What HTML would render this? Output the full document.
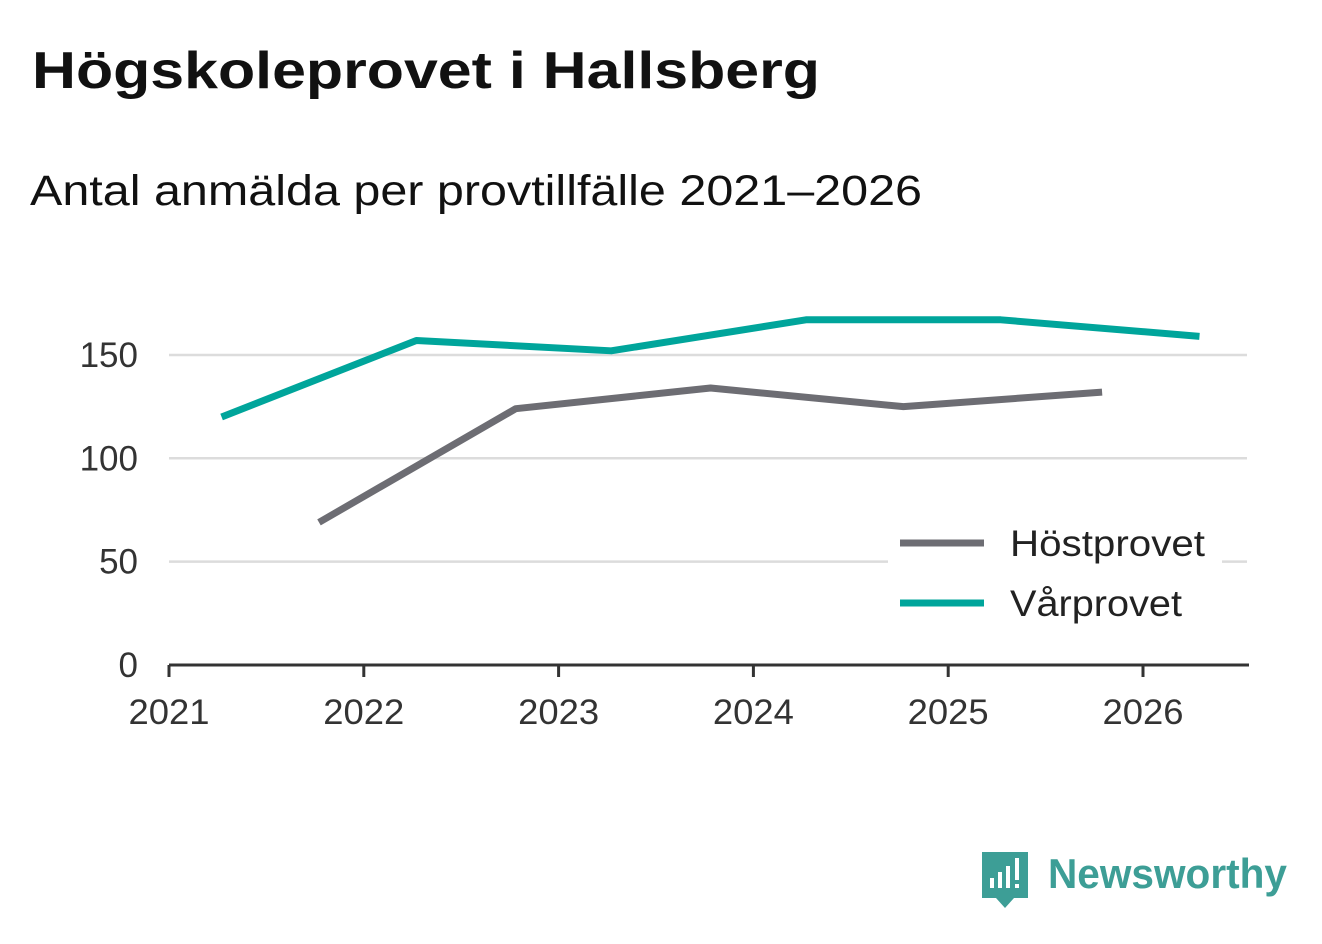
<!DOCTYPE html>
<html><head><meta charset="utf-8">
<style>
body{margin:0;background:#fff;width:1322px;height:939px;overflow:hidden;font-family:"Liberation Sans","DejaVu Sans",sans-serif;}
</style></head>
<body>
<svg width="1322" height="939" xmlns="http://www.w3.org/2000/svg">
<text x="32" y="88" font-size="52" font-weight="bold" fill="#111" textLength="788" lengthAdjust="spacingAndGlyphs">Högskoleprovet i Hallsberg</text>
<text x="30" y="205" font-size="43" fill="#111" textLength="892" lengthAdjust="spacingAndGlyphs">Antal anmälda per provtillfälle 2021–2026</text>
<g id="grid"></g>
<g id="series"></g>
<g id="axes"></g>
<g>
<rect x="888" y="520" width="334" height="110" fill="#fff"/>
<line x1="900" y1="543" x2="984" y2="543" stroke="#6d6d73" stroke-width="7"/>
<text x="1010" y="556" font-size="37" fill="#222" textLength="195" lengthAdjust="spacingAndGlyphs">Höstprovet</text>
<line x1="900" y1="603" x2="984" y2="603" stroke="#00a59b" stroke-width="7"/>
<text x="1010" y="616" font-size="37" fill="#222" textLength="172" lengthAdjust="spacingAndGlyphs">Vårprovet</text>
</g>
<g>
<path d="M982 852 h46 v46 h-14 l-9 10 l-9 -10 h-14 z" fill="#3d9e96"/>
<rect x="990" y="878" width="4" height="10" fill="#fff"/>
<rect x="998" y="872" width="4" height="16" fill="#fff"/>
<rect x="1006" y="866" width="4" height="22" fill="#fff"/>
<rect x="1015" y="858" width="4" height="22" fill="#fff"/>
<rect x="1015" y="884" width="4" height="4" fill="#fff"/>
<text x="1048" y="888" font-size="42" font-weight="bold" fill="#3d9e96" textLength="239" lengthAdjust="spacingAndGlyphs">Newsworthy</text>
</g>
</svg>
<script>
const yTicks=[0,50,100,150];
const xTicks=[2021,2022,2023,2024,2025,2026];
const varDates=[2021.27,2022.27,2023.27,2024.27,2025.27,2026.29];
const varValues=[120,157,152,167,167,159];
const hostDates=[2021.77,2022.78,2023.78,2024.77,2025.79];
const hostValues=[69,124,134,125,132];
const NS="http://www.w3.org/2000/svg";
const x=v=>169+(v-2021)*194.8;
const y=v=>665-v*2.067;
function mk(tag,attrs,parent){const e=document.createElementNS(NS,tag);for(const k in attrs)e.setAttribute(k,attrs[k]);parent.appendChild(e);return e;}
const grid=document.getElementById('grid'),axes=document.getElementById('axes'),series=document.getElementById('series');
yTicks.forEach(t=>{
 if(t>0){const l=mk('line',{x1:169,x2:1247,y1:y(t),y2:y(t),stroke:'#dcdcdc','stroke-width':2.5},grid);
 
 }
 const tx=mk('text',{x:138,y:y(t)+12,'font-size':35,fill:'#333','text-anchor':'end'},axes);tx.textContent=t;
 
 
});
const ax=mk('line',{x1:169,x2:1249,y1:665,y2:665,stroke:'#333','stroke-width':3},axes);


xTicks.forEach(t=>{
 mk('line',{x1:x(t),x2:x(t),y1:665,y2:677,stroke:'#333','stroke-width':3},axes);
 const tx=mk('text',{x:x(t),y:724,'font-size':35,fill:'#333','text-anchor':'middle',textLength:81,lengthAdjust:'spacingAndGlyphs'},axes);tx.textContent=t;
 
 
});
function line(d,v,c,name){
 const p=mk('polyline',{points:d.map((dd,i)=>x(dd)+','+y(v[i])).join(' '),fill:'none',stroke:c,'stroke-width':7,'stroke-linejoin':'round'},series);
 
 
}
line(hostDates,hostValues,'#6d6d73','line-hostprovet');
line(varDates,varValues,'#00a59b','line-varprovet');
</script>
</body></html>
